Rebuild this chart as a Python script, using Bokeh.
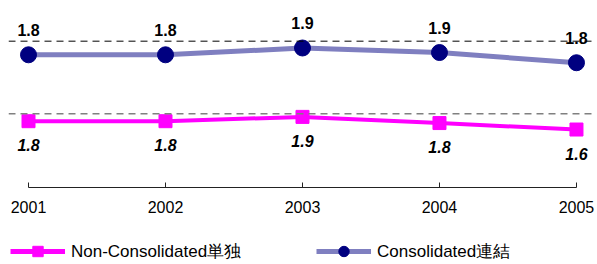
from bokeh.plotting import figure
from bokeh.layouts import column
from bokeh.models import Range1d, FixedTicker, Span, Legend, LegendItem, ColumnDataSource
from bokeh.core.properties import value
from bokeh.embed import file_html
from bokeh.resources import INLINE

# ---- data ----
years = [2001, 2002, 2003, 2004, 2005]
consolidated = [1.84, 1.84, 1.87, 1.85, 1.805]
consolidated_labels = ["1.8", "1.8", "1.9", "1.9", "1.8"]
non_consolidated = [1.78, 1.78, 1.85, 1.75, 1.645]
non_consolidated_labels = ["1.8", "1.8", "1.9", "1.8", "1.6"]
reference_level = 1.9
series_names = ["Non-Consolidated単独", "Consolidated連結"]

FONT = "Liberation Sans"
C_LINE, C_MARK = "#7F7FC0", "#000080"
N_COLOR = "#FF00FF"

p = figure(width=597, height=226, output_backend="svg", toolbar_location=None,
           x_range=Range1d(2000.854, 2005.117), y_range=Range1d(1.2554, 2.0792),
           y_axis_location=None, min_border_left=8, min_border_right=5,
           min_border_top=0, min_border_bottom=39)
p.extra_y_ranges = {"n": Range1d(0.7054, 3.7362)}

p.outline_line_color = None
p.xgrid.visible = False
p.ygrid.visible = False

ax = p.xaxis[0]
ax.ticker = FixedTicker(ticks=years)
ax.bounds = (years[0], years[-1])
ax.major_tick_in = 5
ax.major_tick_out = 0
ax.minor_tick_line_color = None
ax.axis_line_color = "#222222"
ax.major_tick_line_color = "#222222"
ax.major_label_text_font = FONT
ax.major_label_text_font_size = "16px"
ax.major_label_text_color = "black"
ax.major_label_standoff = 13

# reference dashed lines
p.add_layout(Span(location=reference_level, dimension="width", line_color="black",
                  line_width=1, line_dash="7 5"))
p.add_layout(Span(location=reference_level, dimension="width", line_color="#808080",
                  line_width=1.5, line_dash="7 5", y_range_name="n"))

src_c = ColumnDataSource(dict(x=years, y=consolidated, t=consolidated_labels))
src_n = ColumnDataSource(dict(x=years, y=non_consolidated, t=non_consolidated_labels))

p.line("x", "y", source=src_c, line_color=C_LINE, line_width=5)
p.scatter("x", "y", source=src_c, marker="circle", size=16,
          fill_color=C_MARK, line_color=C_MARK)

p.line("x", "y", source=src_n, line_color=N_COLOR, line_width=4, y_range_name="n")
p.scatter("x", "y", source=src_n, marker="square", size=13,
          fill_color=N_COLOR, line_color=N_COLOR, y_range_name="n")

p.text("x", "y", text="t", source=src_c, y_offset=-25, text_align="center",
       text_baseline="middle", text_font=value(FONT), text_font_size="16px",
       text_font_style="bold", text_color="black")
p.text("x", "y", text="t", source=src_n, y_offset=24, text_align="center",
       text_baseline="middle", text_font=value(FONT), text_font_size="16px",
       text_font_style="bold italic", text_color="black", y_range_name="n")

# ---- legend strip (its own small figure; series drawn out of its view) ----
lf = figure(width=597, height=38, output_backend="svg", toolbar_location=None,
            x_range=Range1d(0, 1), y_range=Range1d(0, 1),
            x_axis_location=None, y_axis_location=None,
            min_border_left=0, min_border_right=0, min_border_top=0, min_border_bottom=0)
lf.outline_line_color = None
lf.xgrid.visible = False
lf.ygrid.visible = False

lnl = lf.line("x", "y", source=src_n, line_color=N_COLOR, line_width=5)
lns = lf.scatter("x", "y", source=src_n, marker="square", size=14,
                 fill_color=N_COLOR, line_color=N_COLOR)
lcl = lf.line("x", "y", source=src_c, line_color=C_LINE, line_width=5)
lcs = lf.scatter("x", "y", source=src_c, marker="circle", size=16,
                 fill_color=C_MARK, line_color=C_MARK)

def make_legend(label, renderers, loc):
    return Legend(items=[LegendItem(label=label, renderers=renderers)], location=loc,
                  orientation="horizontal", glyph_width=55, glyph_height=26,
                  label_height=16, label_standoff=6, padding=0, margin=0, spacing=0,
                  label_text_font=FONT, label_text_font_size="17px",
                  label_text_color="black", background_fill_alpha=0,
                  border_line_alpha=0)

lf.add_layout(make_legend(series_names[0], [lnl, lns], (2, 0)))
lf.add_layout(make_legend(series_names[1], [lcl, lcs], (308, 0)))

layout = column(p, lf, spacing=0)
open("out.html", "w").write(file_html(layout, INLINE))
